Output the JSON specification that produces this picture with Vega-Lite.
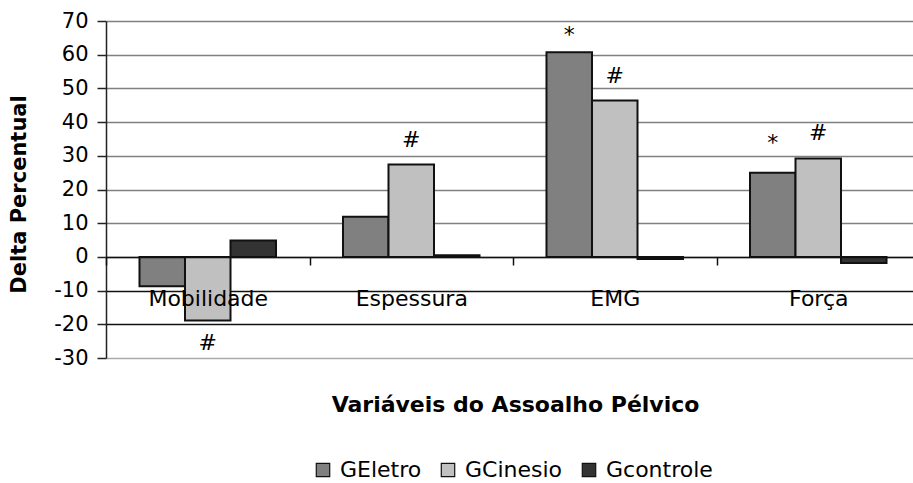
{
  "$schema": "https://vega.github.io/schema/vega-lite/v6.json",
  "width": 807,
  "height": 337,
  "autosize": {"type": "none"},
  "padding": {"left": 106, "top": 21, "right": 0, "bottom": 125},
  "background": "white",
  "config": {"view": {"stroke": null}, "font": "DejaVu Sans"},
  "datasets": {
    "bars": [
      {"category": "Mobilidade", "group": "GEletro", "value": -8.7},
      {"category": "Mobilidade", "group": "GCinesio", "value": -18.9},
      {"category": "Mobilidade", "group": "Gcontrole", "value": 4.9},
      {"category": "Espessura", "group": "GEletro", "value": 11.9},
      {"category": "Espessura", "group": "GCinesio", "value": 27.4},
      {"category": "Espessura", "group": "Gcontrole", "value": 0.5},
      {"category": "EMG", "group": "GEletro", "value": 60.7},
      {"category": "EMG", "group": "GCinesio", "value": 46.4},
      {"category": "EMG", "group": "Gcontrole", "value": -0.6},
      {"category": "Força", "group": "GEletro", "value": 25.0},
      {"category": "Força", "group": "GCinesio", "value": 29.2},
      {"category": "Força", "group": "Gcontrole", "value": -1.8}
    ],
    "notes": [
      {"category": "Mobilidade", "group": "GCinesio", "label": "#", "labelAt": -27.6},
      {"category": "Espessura", "group": "GCinesio", "label": "#", "labelAt": 32.7},
      {"category": "EMG", "group": "GEletro", "label": "*", "labelAt": 63.8},
      {"category": "EMG", "group": "GCinesio", "label": "#", "labelAt": 51.5},
      {"category": "Força", "group": "GEletro", "label": "*", "labelAt": 31.6},
      {"category": "Força", "group": "GCinesio", "label": "#", "labelAt": 34.7}
    ]
  },
  "layer": [
    {
      "data": {"name": "bars"},
      "mark": {"type": "bar", "stroke": "#111111", "strokeWidth": 2},
      "encoding": {
        "x": {
          "field": "category",
          "type": "nominal",
          "sort": ["Mobilidade", "Espessura", "EMG", "Força"],
          "scale": {"range": [0, 814], "paddingInner": 0, "paddingOuter": 0},
          "axis": {
            "title": "Variáveis do Assoalho Pélvico",
            "titleFont": "DejaVu Sans",
            "titleFontSize": 22,
            "titleFontWeight": "bold",
            "titleColor": "black",
            "titleX": 409,
            "titleY": 154,
            "titleAlign": "center",
            "titleBaseline": "alphabetic",
            "titleAngle": 0,
            "offset": -101,
            "zindex": 1,
            "labelAngle": 0,
            "labelFont": "DejaVu Sans",
            "labelFontSize": 22,
            "labelColor": "black",
            "labelPadding": 23,
            "labelBaseline": "top",
            "tickSize": 8,
            "tickBand": "extent",
            "tickColor": "#111111",
            "tickWidth": 1.5,
            "domainColor": "#111111",
            "domainWidth": 1.5,
            "grid": false
          }
        },
        "xOffset": {
          "field": "group",
          "type": "nominal",
          "sort": ["GEletro", "GCinesio", "Gcontrole"],
          "scale": {"paddingInner": 0, "paddingOuter": 0.736}
        },
        "y": {
          "field": "value",
          "type": "quantitative",
          "scale": {"domain": [-30, 70], "nice": false},
          "axis": {
            "title": "Delta Percentual",
            "titleFont": "DejaVu Sans",
            "titleFontSize": 21,
            "titleFontWeight": "bold",
            "titleColor": "black",
            "titleAngle": -90,
            "titleX": -87,
            "titleY": 173,
            "titleAlign": "center",
            "titleBaseline": "middle",
            "values": [-30, -20, -10, 0, 10, 20, 30, 40, 50, 60, 70],
            "tickCount": 11,
            "labelOverlap": false,
            "labelExpr": "'' + datum.value",
            "labelFont": "DejaVu Sans",
            "labelFontSize": 21,
            "labelColor": "black",
            "labelPadding": 9,
            "tickSize": 9,
            "tickColor": "#222222",
            "tickWidth": 1.5,
            "domainColor": "#222222",
            "domainWidth": 1.5,
            "grid": true,
            "gridWidth": 1.5,
            "gridColor": {
              "condition": [
                {"test": "datum.value == -30", "value": "#aaaaaa"},
                {"test": "datum.value < 0", "value": "#111111"}
              ],
              "value": "#808080"
            }
          }
        },
        "color": {
          "field": "group",
          "type": "nominal",
          "sort": ["GEletro", "GCinesio", "Gcontrole"],
          "scale": {"domain": ["GEletro", "GCinesio", "Gcontrole"], "range": ["#808080", "#C0C0C0", "#333333"]},
          "legend": {
            "orient": "none",
            "legendX": 206,
            "legendY": 438,
            "direction": "horizontal",
            "title": null,
            "symbolType": "square",
            "symbolSize": 180,
            "symbolStrokeColor": "#111111",
            "symbolStrokeWidth": 1.2,
            "symbolOpacity": 1,
            "labelFont": "DejaVu Sans",
            "labelFontSize": 22,
            "labelColor": "black",
            "labelOffset": 6,
            "columnPadding": 15,
            "padding": 0
          }
        }
      }
    },
    {
      "data": {"name": "notes"},
      "mark": {"type": "text", "font": "DejaVu Sans", "fontSize": 22, "baseline": "alphabetic", "align": "center", "color": "black"},
      "encoding": {
        "x": {"field": "category", "type": "nominal", "sort": ["Mobilidade", "Espessura", "EMG", "Força"]},
        "xOffset": {"field": "group", "type": "nominal", "sort": ["GEletro", "GCinesio", "Gcontrole"]},
        "y": {"field": "labelAt", "type": "quantitative"},
        "text": {"field": "label"}
      }
    }
  ]
}
